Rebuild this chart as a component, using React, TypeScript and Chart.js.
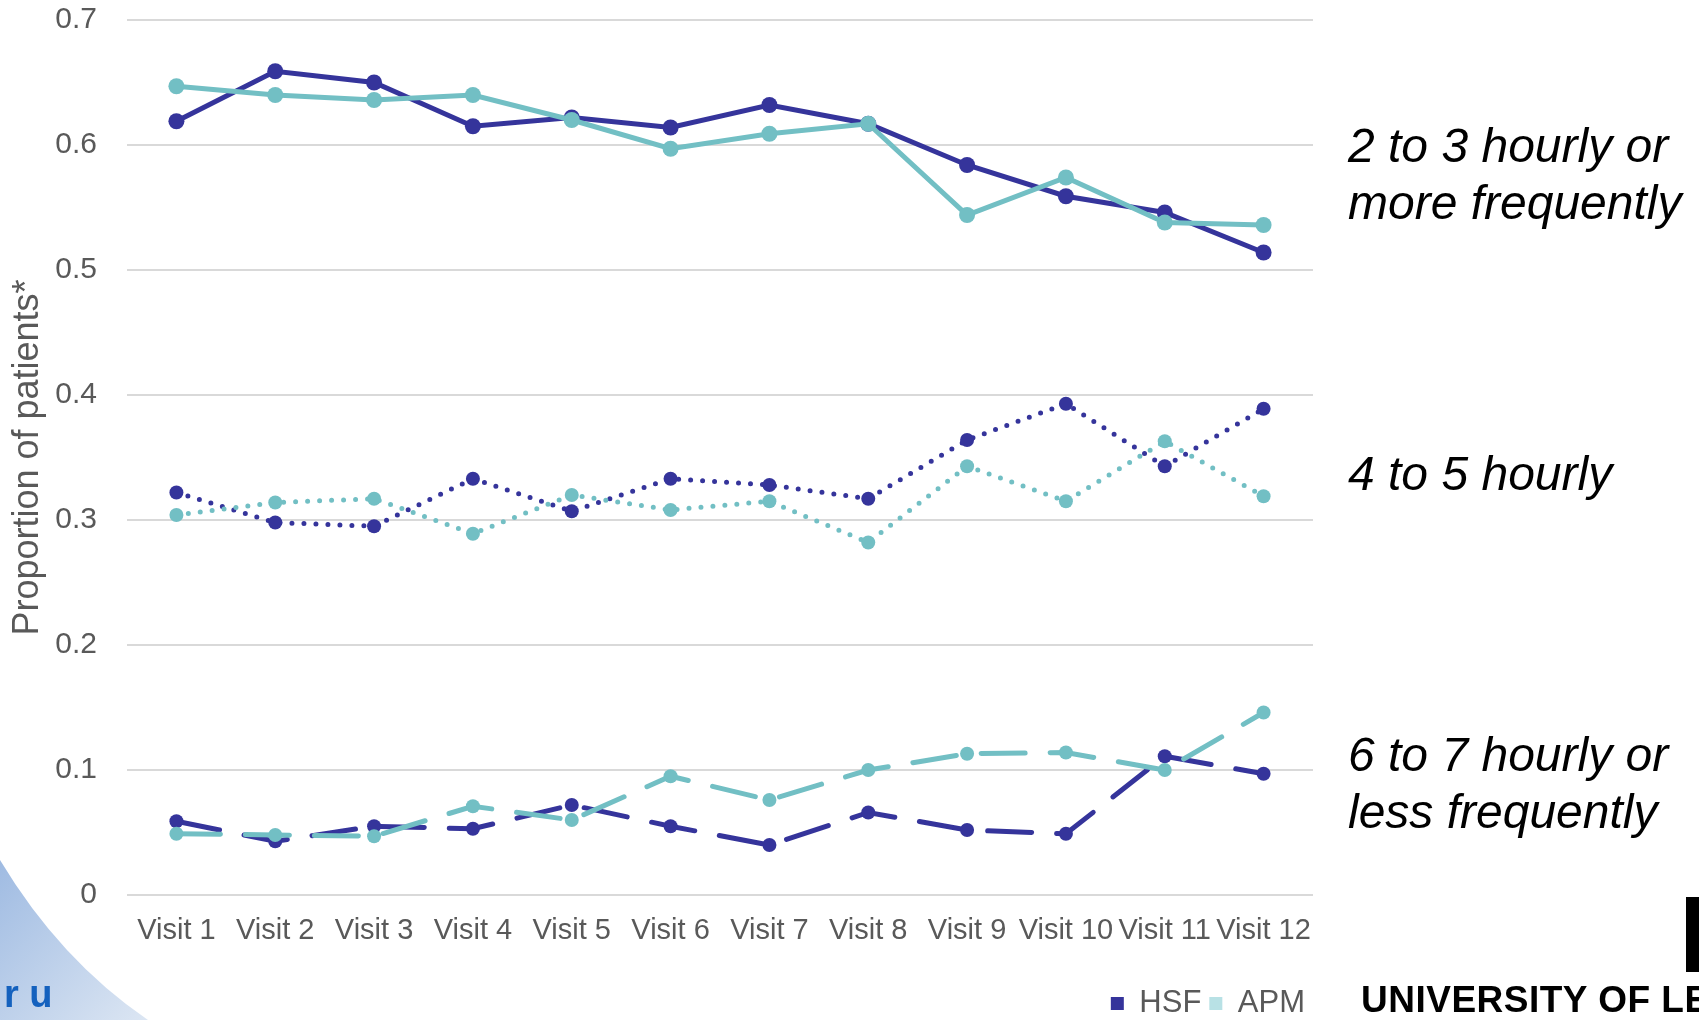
import React, { useEffect, useRef } from "react";
import { Chart, registerables } from "chart.js";

Chart.register(...registerables);

// Visit labels along the x axis
const visits = [
  "Visit 1", "Visit 2", "Visit 3", "Visit 4", "Visit 5", "Visit 6",
  "Visit 7", "Visit 8", "Visit 9", "Visit 10", "Visit 11", "Visit 12",
];

// y axis range / ticks
const yMin = 0;
const yMax = 0.7;
const yStep = 0.1;

// 2 to 3 hourly or more frequently
const hsfFrequent = [0.619, 0.659, 0.650, 0.615, 0.622, 0.614, 0.632, 0.617, 0.584, 0.559, 0.546, 0.514];
const apmFrequent = [0.647, 0.640, 0.636, 0.640, 0.620, 0.597, 0.609, 0.617, 0.544, 0.574, 0.538, 0.536];

// 4 to 5 hourly
const hsfMid = [0.322, 0.298, 0.295, 0.333, 0.307, 0.333, 0.328, 0.317, 0.364, 0.393, 0.343, 0.389];
const apmMid = [0.304, 0.314, 0.317, 0.289, 0.320, 0.308, 0.315, 0.282, 0.343, 0.315, 0.363, 0.319];

// 6 to 7 hourly or less frequently
const hsfInfrequent = [0.059, 0.043, 0.055, 0.053, 0.072, 0.055, 0.040, 0.066, 0.052, 0.049, 0.111, 0.097];
const apmInfrequent = [0.049, 0.048, 0.047, 0.071, 0.060, 0.095, 0.076, 0.100, 0.113, 0.114, 0.100, 0.146];

// Group captions shown to the right of the plot
const groupCaptions = [
  { lines: ["2 to 3 hourly or", "more frequently"], top: 117 },
  { lines: ["4 to 5 hourly"], top: 445 },
  { lines: ["6 to 7 hourly or", "less frequently"], top: 726 },
];

const HSF_COLOR = "#35349B";
const APM_COLOR = "#72BFC4";
const APM_LEGEND = "#B8E1E5";
const TEXT_GRAY = "#595959";
const FONT = "'Liberation Sans', Arial, sans-serif";

function App() {
  const canvasRef = useRef<HTMLCanvasElement | null>(null);

  useEffect(() => {
    const canvas = canvasRef.current;
    if (!canvas) return;

    const solid = { borderWidth: 5, pointRadius: 8, pointHoverRadius: 8, pointBorderWidth: 0 };
    const dotted = {
      borderWidth: 5,
      borderDash: [0, 12],
      borderCapStyle: "round" as const,
      pointRadius: 7,
      pointHoverRadius: 7,
      pointBorderWidth: 0,
    };
    const dashed = {
      borderWidth: 5,
      borderDash: [44, 25],
      borderCapStyle: "round" as const,
      pointRadius: 7,
      pointHoverRadius: 7,
      pointBorderWidth: 0,
    };

    const chart = new Chart(canvas, {
      type: "line",
      data: {
        labels: visits,
        datasets: [
          { label: "HSF", data: hsfFrequent, borderColor: HSF_COLOR, backgroundColor: HSF_COLOR, pointBackgroundColor: HSF_COLOR, order: 1, ...solid },
          { label: "APM", data: apmFrequent, borderColor: APM_COLOR, backgroundColor: APM_COLOR, pointBackgroundColor: APM_COLOR, order: 0, ...solid },
          { label: "HSF 4-5", data: hsfMid, borderColor: HSF_COLOR, backgroundColor: HSF_COLOR, pointBackgroundColor: HSF_COLOR, order: 1, ...dotted },
          { label: "APM 4-5", data: apmMid, borderColor: APM_COLOR, backgroundColor: APM_COLOR, pointBackgroundColor: APM_COLOR, order: 0, ...dotted },
          { label: "HSF 6-7", data: hsfInfrequent, borderColor: HSF_COLOR, backgroundColor: HSF_COLOR, pointBackgroundColor: HSF_COLOR, order: 1, ...dashed },
          { label: "APM 6-7", data: apmInfrequent, borderColor: APM_COLOR, backgroundColor: APM_COLOR, pointBackgroundColor: APM_COLOR, order: 0, ...dashed },
        ],
      },
      options: {
        responsive: false,
        animation: false,
        devicePixelRatio: 1,
        layout: { padding: { left: 0, right: 386, top: 20, bottom: -9 } },
        plugins: {
          tooltip: { enabled: false },
          legend: {
            display: true,
            position: "bottom",
            align: "end",
            labels: {
              boxWidth: 13,
              boxHeight: 13,
              padding: 8,
              color: TEXT_GRAY,
              font: { family: FONT, size: 31 },
              generateLabels: () => [
                { text: "HSF", fillStyle: HSF_COLOR, strokeStyle: HSF_COLOR, lineWidth: 0, hidden: false, datasetIndex: 0, fontColor: TEXT_GRAY },
                { text: "APM", fillStyle: APM_LEGEND, strokeStyle: APM_LEGEND, lineWidth: 0, hidden: false, datasetIndex: 1, fontColor: TEXT_GRAY },
              ],
            },
          },
        },
        scales: {
          x: {
            offset: true,
            grid: { display: false, drawTicks: false },
            border: { display: false },
            ticks: {
              color: TEXT_GRAY,
              font: { family: FONT, size: 29 },
              padding: 19,
              maxRotation: 0,
              minRotation: 0,
              autoSkip: false,
            },
            afterFit: (scale: any) => {
              scale.height = 85;
            },
          },
          y: {
            min: yMin,
            max: yMax,
            grid: { color: "#D9D9D9", lineWidth: 2, drawTicks: true, tickLength: 30, tickColor: "rgba(0,0,0,0)" },
            border: { display: false },
            ticks: {
              stepSize: yStep,
              color: TEXT_GRAY,
              font: { family: FONT, size: 30 },
              padding: 0,
              callback: (v: any) => String(Number(Number(v).toFixed(1))),
            },
            title: {
              display: true,
              text: "Proportion of patients*",
              color: TEXT_GRAY,
              font: { family: FONT, size: 36 },
              padding: { top: 6, bottom: 0 },
            },
            afterFit: (scale: any) => {
              scale.width = 127;
            },
          },
        },
      },
    });

    return () => chart.destroy();
  }, []);

  return (
    <div
      style={{
        position: "fixed",
        left: 0,
        top: 0,
        width: 1699,
        height: 1020,
        background: "#ffffff",
        overflow: "hidden",
        fontFamily: FONT,
      }}
    >
      <canvas ref={canvasRef} width={1699} height={1020} style={{ display: "block", width: 1699, height: 1020 }} />

      {groupCaptions.map((c, i) => (
        <div
          key={i}
          style={{
            position: "absolute",
            left: 1348,
            top: c.top,
            fontSize: 48,
            lineHeight: "57px",
            fontStyle: "italic",
            color: "#000000",
            whiteSpace: "nowrap",
          }}
        >
          {c.lines.map((l, j) => (
            <div key={j}>{l}</div>
          ))}
        </div>
      ))}

      {/* corner artwork, bottom left */}
      <svg width={170} height={170} style={{ position: "absolute", left: 0, top: 850 }}>
        <defs>
          <linearGradient id="swoosh" x1="0" y1="0" x2="1" y2="1">
            <stop offset="0" stopColor="#9FBBE2" />
            <stop offset="1" stopColor="#DCE6F3" />
          </linearGradient>
        </defs>
        <path d="M0,10 Q60,110 148,170 L0,170 Z" fill="url(#swoosh)" />
        <text x={4} y={157} fill="#1461BE" fontWeight="bold" fontSize={38} fontFamily={FONT}>r u</text>
      </svg>

      {/* university wordmark, bottom right */}
      <div style={{ position: "absolute", left: 1686, top: 897, width: 13, height: 75, background: "#000" }} />
      <div
        style={{
          position: "absolute",
          left: 1361,
          top: 980,
          fontSize: 37,
          lineHeight: "40px",
          fontWeight: "bold",
          color: "#000",
          whiteSpace: "nowrap",
          letterSpacing: 0.5,
        }}
      >
        UNIVERSITY OF LEEDS
      </div>
    </div>
  );
}

export default App;
